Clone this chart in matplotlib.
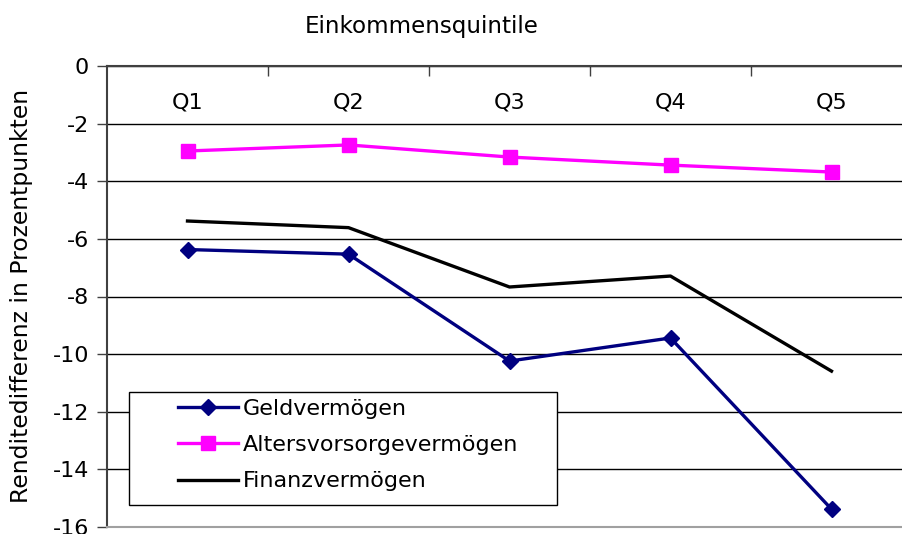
import matplotlib
matplotlib.use("Agg")
import matplotlib.pyplot as plt
from matplotlib.patches import Rectangle

plt.rcParams['font.family'] = ['DejaVu Sans']

categories = ["Q1", "Q2", "Q3", "Q4", "Q5"]
geldvermoegen = [-6.37, -6.53, -10.24, -9.44, -15.38]
altersvorsorge = [-2.95, -2.74, -3.16, -3.44, -3.68]
finanzvermoegen = [-5.38, -5.61, -7.67, -7.29, -10.59]
yticks = [0, -2, -4, -6, -8, -10, -12, -14, -16]

FS = 16
W, H = 902, 534
fig = plt.figure(figsize=(W / 100, H / 100), dpi=100)
ax = fig.add_axes([107 / W, 7 / H, 805 / W, 461 / H])

x = list(range(len(categories)))
ax.plot(x, geldvermoegen, color="#000080", lw=2.4, marker="D", ms=8,
        mec="#000080", mfc="#000080", label="Geldvermögen", zorder=4)
ax.plot(x, altersvorsorge, color="#FF00FF", lw=2.4, marker="s", ms=10.5,
        mec="#FF00FF", mfc="#FF00FF", label="Altersvorsorgevermögen", zorder=4)
ax.plot(x, finanzvermoegen, color="black", lw=2.4, label="Finanzvermögen", zorder=4)

ax.set_xlim(-0.5, len(categories) - 0.5)
ax.set_ylim(-16, 0)
ax.set_yticks(yticks)
ax.set_yticklabels([str(v) for v in yticks], fontsize=FS)
ax.tick_params(axis="y", direction="out", length=7, width=1, color="#404040", pad=6)
ax.yaxis.grid(True, color="black", lw=1)
ax.set_axisbelow(True)

# category axis on top, tick marks between categories pointing inward
ax.xaxis.tick_top()
ax.set_xticks([i + 0.5 for i in x[:-1]])
ax.set_xticklabels([])
ax.tick_params(axis="x", direction="in", length=7, width=1, color="#404040")
for i, c in enumerate(categories):
    ax.text(i, -1.28, c, ha="center", va="center", fontsize=FS)

for s in ["top", "left"]:
    ax.spines[s].set_color("#404040")
    ax.spines[s].set_linewidth(1.5)
ax.spines["bottom"].set_color("#a0a0a0")
ax.spines["bottom"].set_linewidth(1.5)
ax.spines["right"].set_visible(False)

# legend box
x0 = (129 - 107) / 805
x1 = (557 - 107) / 805
y0 = (527 - 505) / 461
y1 = (527 - 392) / 461
ax.add_patch(Rectangle((x0, y0), x1 - x0, y1 - y0, transform=ax.transAxes,
                       facecolor="white", edgecolor="black", lw=1, zorder=3))
leg = ax.legend(loc="upper left", bbox_to_anchor=((178 - 107) / 805, (527 - 399) / 461),
                frameon=False, fontsize=FS, borderpad=0, borderaxespad=0,
                handlelength=2.7, handletextpad=0.2, labelspacing=0.73)
leg.set_zorder(5)

fig.text(422 / W, 1 - 27 / H, "Einkommensquintile", ha="center", va="center", fontsize=16.6)
fig.text(22 / W, 1 - 296 / H, "Renditedifferenz in Prozentpunkten",
         rotation=90, ha="center", va="center", fontsize=16.9)

fig.savefig("out.png", dpi=100)
